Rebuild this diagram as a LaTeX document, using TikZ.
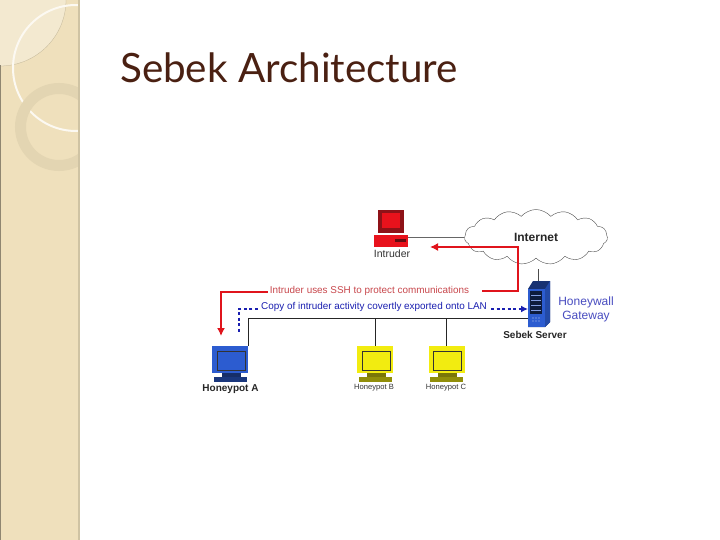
\documentclass[tikz,border=0pt]{standalone}
\usepackage{fontspec}
\setmainfont{Liberation Sans}
\newfontfamily\titlefont{Lato}
\usetikzlibrary{shapes.symbols,arrows.meta}
\definecolor{wheat}{HTML}{EFE0BC}
\definecolor{leaf}{HTML}{F3E9D0}
\definecolor{ring}{HTML}{E3D5B2}
\definecolor{edgeline}{HTML}{CFC3A3}
\definecolor{titlecol}{HTML}{4A2012}
\definecolor{flowred}{HTML}{E0141C}
\definecolor{textred}{HTML}{C8474C}
\definecolor{flowblue}{HTML}{1A1FB0}
\definecolor{pcblue}{HTML}{2C5CD0}
\definecolor{pcyellow}{HTML}{F2EC10}
\definecolor{pcred}{HTML}{E8121C}
\definecolor{pcdark}{HTML}{8E1218}
\tikzset{
  monitorbox/.style={inner sep=0, minimum width=36, minimum height=27},
  screenbox/.style={draw=black!80, line width=.5pt, inner sep=0, minimum width=28, minimum height=19},
  standbox/.style={inner sep=0, minimum width=19, minimum height=4},
  basebox/.style={inner sep=0, minimum width=33, minimum height=5},
  wire/.style={draw=black!85, line width=.6pt},
  redflow/.style={draw=flowred, line width=1.5pt, -{Latex[length=8pt,width=8pt]}},
  blueflow/.style={draw=flowblue, line width=1.5pt, dash pattern=on 3pt off 2.5pt, -{Latex[length=7pt,width=7pt]}},
  bluedash/.style={draw=flowblue, line width=1.5pt, dash pattern=on 3pt off 2.5pt},
  biglabel/.style={font=\fontsize{10}{11}\selectfont\bfseries, inner sep=0, text=black!85},
  smalllabel/.style={font=\fontsize{7.6}{9}\selectfont, inner sep=0, text=black!80},
  flowtext/.style={font=\fontsize{9.9}{11}\selectfont, inner sep=0}
}
\newcommand{\pcbox}[4]{
  \node[monitorbox, fill=#4] (#1) at (#2,#3) {};
  \node[screenbox, fill=#4] (#1scr) at (#2+1,#3+1) {};
  \node[standbox, fill=#4!50!black] (#1st) at (#2+1,#3+15.5) {};
  \node[basebox, fill=#4!60!black] (#1bs) at (#2,#3+20) {};
}
\begin{document}
\begin{tikzpicture}[x=1pt,y=-1pt]
  \useasboundingbox (0,0) rectangle (720,540);
  \fill[white] (0,0) rectangle (720,540);

  \begin{scope}
    \clip (0,0) rectangle (78,540);
    \fill[wheat] (0,0) rectangle (78,540);
    \fill[leaf] (0,0) circle (66);
    \draw[ring!85!black, line width=.3pt] (0,0) circle (66);
    \draw[color=white!80!wheat, line width=2pt] (76,68) circle (63);
    \draw[ring, line width=11pt] (59,127) circle (38.5);
  \end{scope}
  \fill[edgeline] (78,0) rectangle (80,540);
  \fill[black!40!wheat] (0,65) rectangle (1,540);

  \node[font=\titlefont\fontsize{40.4}{42}\selectfont, text=titlecol, inner sep=0, anchor=west] (title) at (120,68) {Sebek Architecture};

  \node[cloud, cloud puffs=15, cloud puff arc=100, aspect=2.6, draw=black!70, line width=.4pt, fill=white, inner sep=0, minimum width=143, minimum height=55, font=\fontsize{12}{13}\selectfont\bfseries, text=black!85] (inet) at (536,237) {Internet};

  \node[inner sep=0, minimum width=26, minimum height=23, fill=pcdark] (intruder) at (391,221.5) {};
  \node[inner sep=0, minimum width=18, minimum height=15, fill=pcred] (intruderscr) at (391,220.5) {};
  \node[inner sep=0, minimum width=34, minimum height=12, fill=pcred] (intruderbs) at (391,241) {};
  \node[inner sep=0, minimum width=11, minimum height=3, fill=pcdark!70!black] (intruderslot) at (400,240) {};
  \node[font=\fontsize{10.5}{12}\selectfont, inner sep=0, text=black!80] (intruderlb) at (392,254) {Intruder};
  \draw[black!60, line width=.5pt] (intruderbs.east |- inet.west) -- (inet.west);

  \fill[pcblue!55!black] (528,289) -- (533,281) -- (550,281) -- (550,322) -- (545,327) -- (528,327) -- cycle;
  \fill[pcblue!80!black] (545,289) -- (550,281) -- (550,322) -- (545,327) -- cycle;
  \node[inner sep=0, minimum width=17, minimum height=38, fill=pcblue] (srv) at (536.5,308) {};
  \node[inner sep=0, minimum width=12, minimum height=23, fill=black!70!pcblue] (srvpanel) at (536,302) {};
  \foreach \yy in {295,300,305,310}
    \draw[pcblue!60!white, line width=.6pt] (531,\yy) -- (541,\yy);
  \foreach \yy in {318,321}
    \foreach \xx in {533,536,539}
      \fill[white!70!pcblue] (\xx,\yy) circle (.6);
  \draw[black!70, line width=.7pt] (538,281) -- (538,269);
  \node[biglabel] (srvlb) at (535,335) {Sebek Server};
  \node[font=\fontsize{12}{14.5}\selectfont, text=flowblue!80!white, inner sep=0, align=center] (gw) at (586,309.5) {Honeywall\\Gateway};

  \pcbox{hpa}{230}{359.5}{pcblue}
  \pcbox{hpb}{375}{359.5}{pcyellow}
  \pcbox{hpc}{446.5}{359.5}{pcyellow}
  \node[biglabel] (hpalb) at (230.5,389) {Honeypot A};
  \node[smalllabel] (hpblb) at (374,388) {Honeypot B};
  \node[smalllabel] (hpclb) at (446,388) {Honeypot C};

  \coordinate (busend) at (srv.west |- 0,318);
  \draw[wire] (hpa.north east) |- (busend);
  \draw[wire] (hpb.north) -- (hpb.north |- busend);
  \draw[wire] (hpc.north) -- (hpc.north |- busend);

  \node[flowtext, text=textred] (sshtxt) at (369.5,291) {Intruder uses SSH to protect communications};
  \node[flowtext, text=flowblue] (copytxt) at (374,307) {Copy of intruder activity covertly exported onto LAN};

  \coordinate (redtop) at (518,247);
  \coordinate (redtip) at (430,247);
  \coordinate (redleft) at (221,292);
  \coordinate (redlow) at (221,336);
  \coordinate (bluecorner) at (239,309);
  \coordinate (bluelow) at (239,333);
  \coordinate (blueright) at (528,309);

  \draw[redflow] (482,291) -| (redtop) -- (redtip);
  \draw[redflow] (sshtxt.west |- redleft) ++(-2,0) -- (redleft) -- (redlow);
  \draw[bluedash] (copytxt.west) ++(-3,2) -- (bluecorner) -- (bluelow);
  \draw[blueflow] (copytxt.east) ++(4,2) -- (blueright);
\end{tikzpicture}
\end{document}
